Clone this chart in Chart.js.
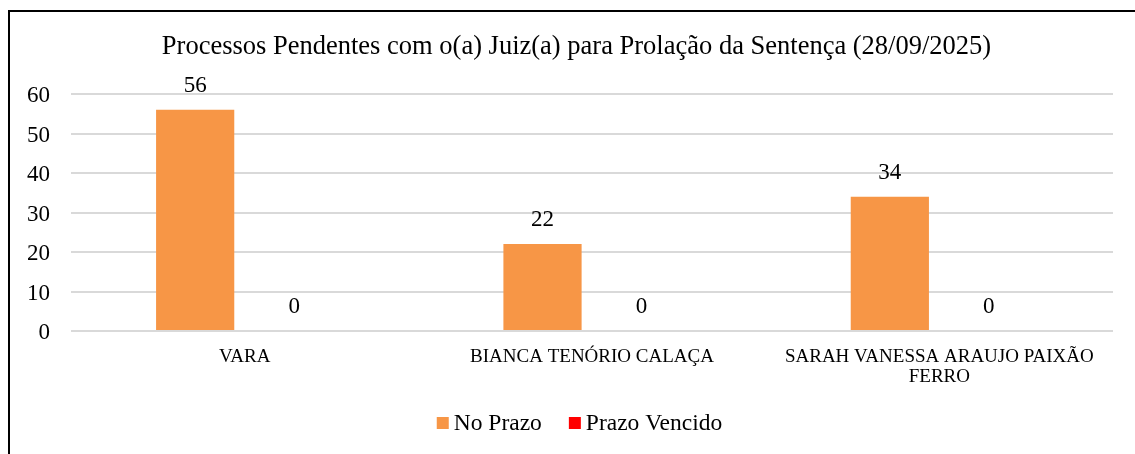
<!DOCTYPE html>
<html>
<head>
<meta charset="utf-8">
<script src="https://cdn.jsdelivr.net/npm/chart.js@4.4.1/dist/chart.umd.min.js"></script>
<style>
  html, body { margin:0; padding:0; background:#fff; overflow:hidden; width:1135px; height:454px; }
  #frame { position:absolute; left:8px; top:10px; width:1200px; height:500px; border-left:2px solid #000; border-top:2px solid #000; box-sizing:border-box; pointer-events:none; }
  #wrap { position:absolute; left:9px; top:0; width:1135px; height:454px; }
</style>
</head>
<body>
<div id="wrap"><canvas id="c" width="1135" height="454"></canvas></div>
<div id="frame"></div>
<script>
const chartTitle = 'Processos Pendentes com o(a) Juiz(a) para Prolação da Sentença (28/09/2025)';
const categories = [['VARA'], ['BIANCA TENÓRIO CALAÇA'], ['SARAH VANESSA ARAUJO PAIXÃO', 'FERRO']];
const seriesNames = ['No Prazo', 'Prazo Vencido'];
const noPrazo = [56, 22, 34];
const prazoVencido = [0, 0, 0];
const yTicks = [0, 10, 20, 30, 40, 50, 60];

const FONT = "'Liberation Serif', 'Times New Roman', serif";

const valueLabels = {
  id: 'valueLabels',
  afterDatasetsDraw(chart) {
    const ctx = chart.ctx;
    ctx.save();
    ctx.font = '23px ' + FONT;
    ctx.fillStyle = '#000';
    ctx.textAlign = 'center';
    ctx.textBaseline = 'alphabetic';
    chart.data.datasets.forEach((ds, i) => {
      const meta = chart.getDatasetMeta(i);
      meta.data.forEach((el, j) => {
        ctx.fillText(String(ds.data[j]), el.x, el.y - 18);
      });
    });
    ctx.restore();
  }
};

const bottomLegend = {
  id: 'bottomLegend',
  afterDraw(chart) {
    const ctx = chart.ctx;
    const box = 12, gapText = 5, gapItem = 27;
    ctx.save();
    ctx.font = '23.5px ' + FONT;
    const items = chart.data.datasets.map(ds => ({ text: ds.label, color: ds.backgroundColor, w: ctx.measureText(ds.label).width }));
    const total = items.reduce((s, it) => s + box + gapText + it.w, 0) + gapItem * (items.length - 1);
    let x = chart.width / 2 + 3 - total / 2;
    const cy = 423;
    ctx.textBaseline = 'middle';
    ctx.textAlign = 'left';
    items.forEach(it => {
      ctx.fillStyle = it.color;
      ctx.fillRect(x, cy - box / 2, box, box);
      ctx.fillStyle = '#000';
      ctx.fillText(it.text, x + box + gapText, cy + 1);
      x += box + gapText + it.w + gapItem;
    });
    ctx.restore();
  }
};

new Chart(document.getElementById('c'), {
  type: 'bar',
  data: {
    labels: categories,
    datasets: [
      { label: seriesNames[0], data: noPrazo, backgroundColor: '#F79646', categoryPercentage: 0.57, barPercentage: 0.79 },
      { label: seriesNames[1], data: prazoVencido, backgroundColor: '#FF0000', categoryPercentage: 0.57, barPercentage: 0.79 }
    ]
  },
  options: {
    responsive: false,
    animation: false,
    layout: { padding: { left: 0, right: 0, top: 0, bottom: 0 } },
    plugins: {
      title: {
        display: true, text: chartTitle, color: '#000',
        font: { family: FONT, size: 26.5, weight: 'normal', lineHeight: 1.2 },
        padding: { top: 31, bottom: 31.2 }
      },
      legend: { display: false },
      tooltip: { enabled: false }
    },
    scales: {
      x: {
        grid: { display: false, drawTicks: false },
        border: { display: false },
        ticks: { color: '#000', font: { family: FONT, size: 19, lineHeight: 1.05 }, padding: 16, autoSkip: false, maxRotation: 0, minRotation: 0 },
        afterFit(s) { s.height = 123; }
      },
      y: {
        min: 0, max: 60,
        afterBuildTicks(s) { s.ticks = yTicks.map(v => ({ value: v })); },
        grid: { color: '#D9D9D9', lineWidth: 2, drawTicks: false },
        border: { display: false },
        ticks: { color: '#000', font: { family: FONT, size: 23 }, padding: 21, labelOffset: 2 },
        afterFit(s) { s.width = 62; }
      },
      yRight: {
        type: 'linear', position: 'right', display: true,
        grid: { display: false, drawTicks: false },
        border: { display: false },
        ticks: { display: false },
        afterFit(s) { s.width = 31; }
      }
    }
  },
  plugins: [valueLabels, bottomLegend]
});
</script>
</body>
</html>
